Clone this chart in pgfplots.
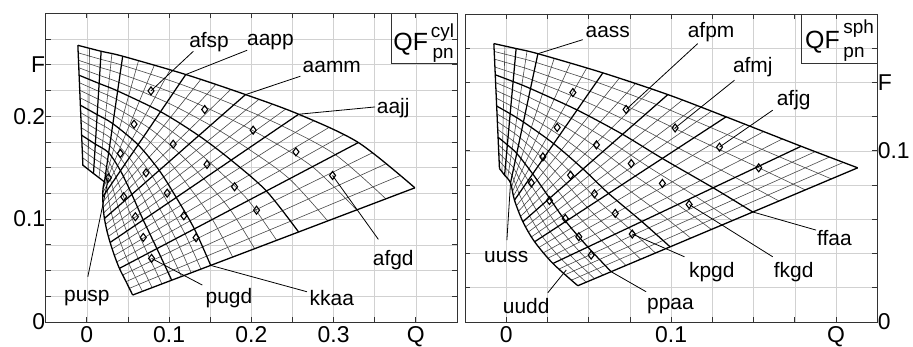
\documentclass[border=0pt]{standalone}
\usepackage{fontspec}
\setmainfont{Liberation Sans}
\usepackage{pgfplots}
\pgfplotsset{compat=1.18}
\tikzset{
  lbl/.style={font=\fontsize{21}{24}\selectfont, inner sep=0pt},
  ldr/.style={line width=0.8pt, black},
  thk/.style={line width=1.3pt, black},
  mthin/.style={line width=0.6pt, black!72},
  mthick/.style={line width=1.25pt, black},
}
\pgfplotsset{
  qf/.style={
    scale only axis,
    axis line style={line width=1pt, black!80},
    grid=major,
    major grid style={line width=0.6pt, black!18},
    tick style={line width=0.8pt, black!80},
    major tick length=5bp,
    tick align=inside,
    font=\fontsize{23}{25}\selectfont,
    xticklabel style={inner sep=4bp},
    /pgf/number format/assume math mode=true,
    unbounded coords=jump,
    clip=false,
  },
  dia/.style={only marks, mark=diamond, mark size=4bp, mark options={line width=1.1pt, fill=white, draw=black}},
}
\begin{document}
\begin{tikzpicture}
\path[use as bounding box] (-45.7bp,-25bp) rectangle (867.3bp,322bp);
\begin{axis}[qf, width=411.3bp, height=308.7bp,
  xmin=-0.05, xmax=0.45, ymin=0, ymax=0.3,
  xtick={0,0.05,0.1,0.15,0.2,0.25,0.3,0.35,0.4},
  xticklabels={0,,0.1,,0.2,,0.3,,Q},
  ytick={0,0.025,0.05,0.075,0.1,0.125,0.15,0.175,0.2,0.225,0.25,0.275},
  yticklabels={0,,,,0.1,,,,0.2,,F,},
  yticklabel style={xshift=3bp},
]
% thin lines of the second family
\addplot[mthin] coordinates {
(0.0017,0.1484) (0.0033,0.2660) (nan,nan)
(0.0148,0.1403) (0.0305,0.2607) (nan,nan)
(0.0202,0.1327) (0.0628,0.2538) (nan,nan)
(0.0196,0.1291) (0.0820,0.2494) (nan,nan)
(0.0194,0.1256) (0.1011,0.2449) (nan,nan)
(0.0194,0.1165) (0.1385,0.2356) (nan,nan)
(0.0198,0.1113) (0.1566,0.2307) (nan,nan)
(0.0206,0.1061) (0.1748,0.2259) (nan,nan)
(0.0226,0.0948) (0.2091,0.2163) (nan,nan)
(0.0243,0.0890) (0.2252,0.2115) (nan,nan)
(0.0263,0.0832) (0.2414,0.2067) (nan,nan)
(0.0307,0.0710) (0.2757,0.1955) (nan,nan)
(0.0335,0.0647) (0.2938,0.1888) (nan,nan)
(0.0364,0.0584) (0.3120,0.1818) (nan,nan)
(0.0436,0.0456) (0.3473,0.1645) (nan,nan)
(0.0477,0.0392) (0.3644,0.1540) (nan,nan)
(0.0517,0.0327) (0.3816,0.1425)};
% thin arcs
\addplot[mthin, smooth] coordinates {(-0.0052,0.1597) (0.0087,0.1515) (0.0227,0.1433) (0.0248,0.1280) (0.0297,0.1064) (0.0384,0.0828) (0.0510,0.0569) (0.0676,0.0298)};
\addplot[mthin, smooth] coordinates {(-0.0056,0.1670) (0.0092,0.1586) (0.0240,0.1503) (0.0301,0.1343) (0.0380,0.1123) (0.0484,0.0882) (0.0624,0.0617) (0.0794,0.0334)};
\addplot[mthin, smooth] coordinates {(-0.0059,0.1742) (0.0098,0.1657) (0.0253,0.1574) (0.0355,0.1407) (0.0464,0.1181) (0.0585,0.0937) (0.0738,0.0665) (0.0913,0.0370)};
\addplot[mthin, smooth] coordinates {(-0.0067,0.1888) (0.0109,0.1800) (0.0278,0.1715) (0.0462,0.1533) (0.0630,0.1298) (0.0786,0.1046) (0.0966,0.0761) (0.1150,0.0442)};
\addplot[mthin, smooth] coordinates {(-0.0071,0.1961) (0.0115,0.1872) (0.0291,0.1786) (0.0516,0.1596) (0.0713,0.1357) (0.0886,0.1101) (0.1080,0.0809) (0.1269,0.0478)};
\addplot[mthin, smooth] coordinates {(-0.0075,0.2034) (0.0120,0.1943) (0.0304,0.1856) (0.0570,0.1659) (0.0797,0.1415) (0.0987,0.1156) (0.1193,0.0857) (0.1387,0.0514)};
\addplot[mthin, smooth] coordinates {(-0.0082,0.2179) (0.0132,0.2091) (0.0331,0.2006) (0.0692,0.1803) (0.1000,0.1558) (0.1254,0.1301) (0.1526,0.0997) (0.1773,0.0631)};
\addplot[mthin, smooth] coordinates {(-0.0086,0.2252) (0.0138,0.2166) (0.0346,0.2086) (0.0760,0.1883) (0.1121,0.1642) (0.1421,0.1392) (0.1745,0.1089) (0.2040,0.0712)};
\addplot[mthin, smooth] coordinates {(-0.0090,0.2325) (0.0144,0.2242) (0.0360,0.2165) (0.0828,0.1964) (0.1241,0.1727) (0.1588,0.1482) (0.1964,0.1181) (0.2307,0.0794)};
\addplot[mthin, smooth] coordinates {(-0.0098,0.2471) (0.0156,0.2396) (0.0390,0.2329) (0.0973,0.2134) (0.1503,0.1911) (0.1960,0.1684) (0.2462,0.1391) (0.2928,0.0982)};
\addplot[mthin, smooth] coordinates {(-0.0101,0.2543) (0.0162,0.2474) (0.0405,0.2414) (0.1050,0.2224) (0.1645,0.2011) (0.2165,0.1796) (0.2742,0.1509) (0.3281,0.1089)};
\addplot[mthin, smooth] coordinates {(-0.0105,0.2616) (0.0168,0.2553) (0.0421,0.2498) (0.1126,0.2315) (0.1787,0.2110) (0.2370,0.1907) (0.3021,0.1626) (0.3635,0.1197)};
% thick lines
\addplot[mthick] coordinates {
(0.0081,0.1443) (0.0174,0.2631) (nan,nan)
(0.0214,0.1362) (0.0436,0.2583) (nan,nan)
(0.0194,0.1217) (0.1203,0.2405) (nan,nan)
(0.0214,0.1006) (0.1929,0.2210) (nan,nan)
(0.0283,0.0773) (0.2575,0.2019) (nan,nan)
(0.0396,0.0521) (0.3301,0.1744)};
\addplot[mthick, smooth] coordinates {(-0.0063,0.1815) (0.0103,0.1729) (0.0265,0.1645) (0.0409,0.1470) (0.0547,0.1240) (0.0685,0.0992) (0.0852,0.0713) (0.1032,0.0406)};
\addplot[mthick, smooth] coordinates {(-0.0079,0.2107) (0.0126,0.2015) (0.0317,0.1927) (0.0623,0.1722) (0.0880,0.1473) (0.1087,0.1210) (0.1307,0.0905) (0.1506,0.0550)};
\addplot[mthick, smooth] coordinates {(-0.0094,0.2398) (0.0149,0.2318) (0.0375,0.2245) (0.0896,0.2044) (0.1361,0.1811) (0.1754,0.1573) (0.2183,0.1273) (0.2574,0.0875)};
% outline
\addplot[thk, smooth] coordinates {(-0.0109,0.2689) (0.0174,0.2631) (0.0436,0.2583) (0.1203,0.2405) (0.1929,0.2210) (0.2575,0.2019) (0.3301,0.1744) (0.3988,0.1304)};
\addplot[thk] coordinates {(0.3988,0.1304) (0.0557,0.0262)};
\addplot[thk, smooth] coordinates {(0.0214,0.1362) (0.0202,0.1327) (0.0196,0.1291) (0.0194,0.1256) (0.0194,0.1217) (0.0198,0.1113) (0.0214,0.1006) (0.0243,0.0890) (0.0283,0.0773) (0.0335,0.0647) (0.0396,0.0521) (0.0477,0.0392) (0.0557,0.0262)};
\addplot[thk] coordinates {(0.0214,0.1362) (0.0081,0.1443) (-0.0048,0.1524) (-0.0109,0.2689)};
\addplot[dia] coordinates {(0.078,0.2246) (0.1433,0.2065) (0.0574,0.1922) (0.2022,0.1864) (0.105,0.1728) (0.0408,0.1638) (0.2542,0.1653) (0.1461,0.1531) (0.0719,0.145) (0.0263,0.1401) (0.2987,0.1424) (0.1796,0.1314) (0.0977,0.1252) (0.0448,0.1217) (0.2063,0.1087) (0.1179,0.1032) (0.059,0.1023) (0.1328,0.0819) (0.0686,0.0822) (0.0787,0.0618)};
\draw[ldr] (axis cs:0.1295,0.2631) -- (axis cs:0.0780,0.2246);
\draw[ldr] (axis cs:0.1949,0.2641) -- (axis cs:0.1203,0.2405);
\draw[ldr] (axis cs:0.2596,0.2388) -- (axis cs:0.1929,0.2210);
\draw[ldr] (axis cs:0.3504,0.2090) -- (axis cs:0.2575,0.2019);
\draw[ldr] (axis cs:0.3544,0.0803) -- (axis cs:0.2987,0.1424);
\draw[ldr] (axis cs:0.2676,0.0294) -- (axis cs:0.1506,0.0550);
\draw[ldr] (axis cs:0.1404,0.0359) -- (axis cs:0.0787,0.0618);
\draw[ldr] (axis cs:0.0012,0.0440) -- (axis cs:0.0263,0.1401);
\node[lbl] at (axis cs:0.1486,0.2721) {afsp};
\node[lbl] at (axis cs:0.2232,0.2721) {aapp};
\node[lbl] at (axis cs:0.2978,0.2479) {aamm};
\node[lbl] at (axis cs:0.3725,0.2075) {aajj};
\node[lbl] at (axis cs:0.3725,0.0602) {afgd};
\node[lbl] at (axis cs:0.2978,0.0236) {kkaa};
\node[lbl] at (axis cs:0.1728,0.0236) {pugd};
\node[lbl] at (axis cs:0.0,0.0236) {pusp};
\draw[line width=0.8pt, black!80] (rel axis cs:0.8412,1) -- (rel axis cs:0.8412,0.838) -- (rel axis cs:1,0.838);
\node[anchor=base west, inner sep=0pt, font=\fontsize{25}{25}\selectfont] at (rel axis cs:0.8451,0.8789) {QF};
\node[anchor=base west, inner sep=0pt, font=\fontsize{19}{19}\selectfont] at (rel axis cs:0.936,0.9223) {cyl};
\node[anchor=base west, inner sep=0pt, font=\fontsize{19}{19}\selectfont] at (rel axis cs:0.94,0.8542) {pn};
\end{axis}
\begin{axis}[qf, xshift=419.3bp, width=412.3bp, height=308bp,
  xmin=-0.025, xmax=0.225, ymin=0, ymax=0.18,
  xtick={0,0.025,0.05,0.075,0.1,0.125,0.15,0.175,0.2},
  xticklabels={0,,,,0.1,,,,Q},
  ytick={0,0.02,0.04,0.06,0.08,0.1,0.12,0.14,0.16},
  yticklabels={0,,,,,0.1,,F,},
  yticklabel pos=right,
  yticklabel style={xshift=-3bp},
]
\addplot[mthin] coordinates {
(-0.0026,0.0878) (-0.0008,0.1613) (nan,nan)
(0.0008,0.0836) (0.0126,0.1583) (nan,nan)
(0.0032,0.0788) (0.0291,0.1540) (nan,nan)
(0.0038,0.0763) (0.0389,0.1512) (nan,nan)
(0.0044,0.0737) (0.0488,0.1484) (nan,nan)
(0.0063,0.0681) (0.0685,0.1424) (nan,nan)
(0.0076,0.0649) (0.0783,0.1393) (nan,nan)
(0.0088,0.0618) (0.0882,0.1361) (nan,nan)
(0.0119,0.0557) (0.1068,0.1297) (nan,nan)
(0.0137,0.0528) (0.1157,0.1264) (nan,nan)
(0.0154,0.0498) (0.1245,0.1232) (nan,nan)
(0.0200,0.0437) (0.1447,0.1156) (nan,nan)
(0.0228,0.0406) (0.1561,0.1113) (nan,nan)
(0.0255,0.0374) (0.1674,0.1070) (nan,nan)
(0.0321,0.0310) (0.1874,0.0996) (nan,nan)
(0.0359,0.0277) (0.1960,0.0964) (nan,nan)
(0.0396,0.0245) (0.2045,0.0933)};
\addplot[mthin, smooth] coordinates {(-0.0043,0.0943) (-0.0006,0.0902) (0.0035,0.0856) (0.0078,0.0750) (0.0142,0.0620) (0.0219,0.0499) (0.0336,0.0366) (0.0485,0.0233)};
\addplot[mthin, smooth] coordinates {(-0.0045,0.0988) (-0.0002,0.0946) (0.0045,0.0899) (0.0105,0.0789) (0.0182,0.0655) (0.0266,0.0528) (0.0389,0.0390) (0.0535,0.0253)};
\addplot[mthin, smooth] coordinates {(-0.0047,0.1034) (0.0003,0.0991) (0.0054,0.0942) (0.0133,0.0827) (0.0223,0.0689) (0.0314,0.0558) (0.0442,0.0414) (0.0586,0.0274)};
\addplot[mthin, smooth] coordinates {(-0.0052,0.1125) (0.0011,0.1081) (0.0074,0.1031) (0.0192,0.0910) (0.0314,0.0766) (0.0426,0.0629) (0.0577,0.0476) (0.0726,0.0330)};
\addplot[mthin, smooth] coordinates {(-0.0054,0.1171) (0.0015,0.1126) (0.0084,0.1077) (0.0224,0.0954) (0.0364,0.0809) (0.0491,0.0670) (0.0659,0.0513) (0.0815,0.0367)};
\addplot[mthin, smooth] coordinates {(-0.0056,0.1216) (0.0020,0.1172) (0.0094,0.1123) (0.0256,0.0998) (0.0415,0.0852) (0.0556,0.0710) (0.0741,0.0550) (0.0905,0.0403)};
\addplot[mthin, smooth] coordinates {(-0.0060,0.1308) (0.0028,0.1264) (0.0115,0.1218) (0.0323,0.1091) (0.0526,0.0945) (0.0702,0.0802) (0.0930,0.0637) (0.1119,0.0490)};
\addplot[mthin, smooth] coordinates {(-0.0062,0.1353) (0.0033,0.1311) (0.0126,0.1266) (0.0359,0.1140) (0.0585,0.0996) (0.0783,0.0853) (0.1039,0.0686) (0.1244,0.0541)};
\addplot[mthin, smooth] coordinates {(-0.0064,0.1399) (0.0037,0.1358) (0.0136,0.1315) (0.0394,0.1190) (0.0645,0.1046) (0.0865,0.0905) (0.1147,0.0735) (0.1370,0.0592)};
\addplot[mthin, smooth] coordinates {(-0.0069,0.1490) (0.0046,0.1453) (0.0158,0.1415) (0.0469,0.1293) (0.0774,0.1155) (0.1043,0.1017) (0.1388,0.0845) (0.1654,0.0707)};
\addplot[mthin, smooth] coordinates {(-0.0071,0.1536) (0.0051,0.1502) (0.0170,0.1466) (0.0508,0.1348) (0.0843,0.1213) (0.1139,0.1077) (0.1521,0.0906) (0.1813,0.0772)};
\addplot[mthin, smooth] coordinates {(-0.0073,0.1581) (0.0055,0.1550) (0.0181,0.1517) (0.0547,0.1402) (0.0911,0.1271) (0.1236,0.1138) (0.1655,0.0966) (0.1972,0.0836)};
\addplot[mthick] coordinates {
(-0.0010,0.0858) (0.0060,0.1598) (nan,nan)
(0.0026,0.0813) (0.0192,0.1568) (nan,nan)
(0.0050,0.0712) (0.0586,0.1456) (nan,nan)
(0.0101,0.0586) (0.0980,0.1329) (nan,nan)
(0.0172,0.0469) (0.1333,0.1199) (nan,nan)
(0.0283,0.0342) (0.1788,0.1027)};
\addplot[mthick, smooth] coordinates {(-0.0050,0.1080) (0.0007,0.1035) (0.0064,0.0985) (0.0161,0.0865) (0.0263,0.0723) (0.0361,0.0588) (0.0495,0.0438) (0.0636,0.0294)};
\addplot[mthick, smooth] coordinates {(-0.0058,0.1262) (0.0024,0.1217) (0.0104,0.1169) (0.0288,0.1042) (0.0466,0.0894) (0.0621,0.0751) (0.0822,0.0587) (0.0994,0.0439)};
\addplot[mthick, smooth] coordinates {(-0.0067,0.1445) (0.0042,0.1405) (0.0147,0.1364) (0.0430,0.1239) (0.0705,0.1097) (0.0946,0.0956) (0.1255,0.0784) (0.1495,0.0643)};
\addplot[thk, smooth] coordinates {(-0.0075,0.1627) (0.0060,0.1598) (0.0192,0.1568) (0.0586,0.1456) (0.0980,0.1329) (0.1333,0.1199) (0.1788,0.1027) (0.2131,0.0901)};
\addplot[thk] coordinates {(0.2131,0.0901) (0.0434,0.0212)};
\addplot[thk, smooth] coordinates {(-0.0041,0.0897) (-0.0010,0.0858) (0.0026,0.0813) (0.0050,0.0712) (0.0101,0.0586) (0.0172,0.0469) (0.0283,0.0342) (0.0434,0.0212)};
\addplot[thk] coordinates {(-0.0041,0.0897) (-0.0075,0.1627)};
\addplot[dia] coordinates {(0.0404,0.1341) (0.0727,0.1242) (0.0309,0.1137) (0.1024,0.1134) (0.0547,0.1035) (0.1293,0.1022) (0.0222,0.0965) (0.0758,0.0926) (0.039,0.0858) (0.1531,0.0901) (0.0152,0.0813) (0.0947,0.081) (0.0535,0.0749) (0.0262,0.071) (0.1109,0.0687) (0.0661,0.0635) (0.0358,0.0605) (0.0764,0.0514) (0.044,0.0498) (0.0515,0.0391)};
\draw[ldr] (axis cs:0.0464,0.1650) -- (axis cs:0.0192,0.1568);
\draw[ldr] (axis cs:0.1161,0.1627) -- (axis cs:0.0727,0.1242);
\draw[ldr] (axis cs:0.1384,0.1413) -- (axis cs:0.1024,0.1134);
\draw[ldr] (axis cs:0.1616,0.1238) -- (axis cs:0.1293,0.1022);
\draw[ldr] (axis cs:0.1879,0.0537) -- (axis cs:0.1495,0.0643);
\draw[ldr] (axis cs:0.1616,0.0381) -- (axis cs:0.1109,0.0687);
\draw[ldr] (axis cs:0.1081,0.0381) -- (axis cs:0.0764,0.0514);
\draw[ldr] (axis cs:0.0848,0.0177) -- (axis cs:0.0636,0.0294);
\draw[ldr] (axis cs:0.0252,0.0171) -- (axis cs:0.0364,0.0304);
\draw[ldr] (axis cs:0.0004,0.0479) -- (axis cs:0.0026,0.0813);
\node[lbl] at (axis cs:0.0616,0.1695) {aass};
\node[lbl] at (axis cs:0.1242,0.1695) {afpm};
\node[lbl] at (axis cs:0.1495,0.1490) {afmj};
\node[lbl] at (axis cs:0.1743,0.1296) {afjg};
\node[lbl] at (axis cs:0.1990,0.0489) {ffaa};
\node[lbl] at (axis cs:0.1743,0.0294) {fkgd};
\node[lbl] at (axis cs:0.1246,0.0294) {kpgd};
\node[lbl] at (axis cs:0.0996,0.0093) {ppaa};
\node[lbl] at (axis cs:0.0121,0.0093) {uudd};
\node[lbl] at (axis cs:0.0,0.0381) {uuss};
\draw[line width=0.8pt, black!80] (rel axis cs:0.8166,1) -- (rel axis cs:0.8166,0.84) -- (rel axis cs:1,0.84);
\node[anchor=base west, inner sep=0pt, font=\fontsize{25}{25}\selectfont] at (rel axis cs:0.8246,0.8886) {QF};
\node[anchor=base west, inner sep=0pt, font=\fontsize{19}{19}\selectfont] at (rel axis cs:0.9175,0.9373) {sph};
\node[anchor=base west, inner sep=0pt, font=\fontsize{19}{19}\selectfont] at (rel axis cs:0.9175,0.8594) {pn};
\end{axis}
\end{tikzpicture}
\end{document}
